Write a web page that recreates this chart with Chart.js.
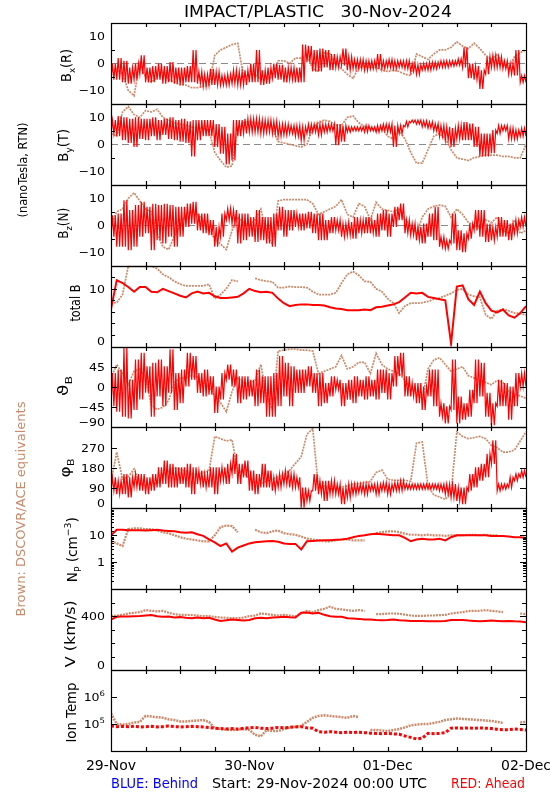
<!DOCTYPE html>
<html>
<head>
<meta charset="utf-8">
<script src="https://cdn.jsdelivr.net/npm/chart.js@4.4.1/dist/chart.umd.min.js"></script>
<style>
  html, body { margin: 0; padding: 0; background: #fff; }
  #wrap { width: 550px; height: 800px; }
</style>
</head>
<body>
<div id="wrap"><canvas id="c" width="550" height="800"></canvas></div>
<script>
const RED = '#ff0000';
const BROWN = '#c98b6b';
const FAMILY = '"DejaVu Sans", sans-serif';

// hourly samples, 29-Nov 00:00 .. 02-Dec 00:00
const hours = Array.from({ length: 73 }, (_, i) => i);
const dayNames = ['29-Nov', '30-Nov', '01-Dec', '02-Dec'];

// red (STEREO-A) field components: hourly [low, high] spread
const bxRed = [[-6,0],[-6,2],[-7,1],[-7.5,-1.5],[-6,0],[-4,3],[-7,-1.5],[-7,-1],[-6,0],[-7.5,-1],
  [-7,0.5],[-7.5,-1.5],[-8,-1.5],[-7,-1],[-7,5],[-7.5,-3],[-8.5,-4],[-8,-2],[-8,-3],[-8,-4.5],
  [-8,-4],[-7.5,-2.5],[-8,-3],[-8,-2.5],[-7,0],[-7,5],[-8,-2.5],[-7.5,-1.5],[-5.5,0],[-6,-0.5],
  [-7,-1.5],[-6,-1.5],[-7,-1.5],[-7,7],[0.5,6.5],[-3,5],[-3,5.5],[-1.5,5],[-2.5,3.5],[-1.5,2.5],
  [-0.7,5.5],[-2.5,2.5],[-2,1.5],[-2,1.5],[-2.5,1],[-2,1],[-2,3.5],[-2,1],[-1.5,1.5],[-2,1],
  [-1.5,1],[-2,1],[-3,0],[-4,-0.5],[-2.5,0],[-2.5,0.5],[-2,0.5],[-1.5,1],[-1.5,1],[-1,1],
  [-0.7,1.7],[-1.5,6],[-5.5,0],[-6,-1],[-9.5,-2.5],[-4,2.5],[-1.5,3],[-1.5,2.5],[-2,1],[-4,0],
  [-4.5,5],[-7,-4.5],[-7,-5]];
const byRed = [[4,9],[3,10.5],[1.5,10],[0.5,9.5],[-1,10],[2,9.5],[1.5,9.5],[3,10],[1.5,9],[3.5,9.5],
  [2,10],[1.5,9],[1,9.5],[0.5,8.5],[-4.5,9],[1.5,9],[3,9],[3,9],[-1,7.5],[-3.5,6.5],
  [-7.5,4],[-6,9],[3,9],[4,9.5],[4.5,9.5],[4.5,9.5],[4,9],[4.5,9],[4,8.5],[3,7.5],
  [3.5,7.5],[4,7],[3,7],[1.5,6.5],[4,7.5],[4.5,7.5],[3.5,7.5],[4.5,7.5],[5,7.5],[-0.3,7.5],
  [1,7],[4.5,6.5],[5,6.5],[5,6.5],[4.5,7],[5,6.5],[4.5,7],[5,7.5],[4.5,7.5],[-1,7],
  [4,7],[6.5,8.5],[8,9],[7.5,9],[6.5,8.7],[6,8.3],[5,7.7],[3,7],[1.5,6.5],[-1,6],
  [2,7],[1.5,8.3],[1.5,7.7],[-1,6.5],[-4.5,4],[-4.5,4],[-3.3,5.3],[4,7],[5,7],[2,6],
  [2,5.3],[3,6],[3,6]];
const bzRed = [[-4.3,3.7],[-8,4.3],[-8,9.3],[-9.3,5.6],[-8,7.5],[-4.3,8.7],[-3,6.8],[-9.3,8],[-5.6,7.5],[-6.8,8],
  [-4.3,7.5],[-8,6.8],[-4.3,6.8],[-0.6,8],[0.6,8.7],[-1.9,4.3],[-3,4.3],[-3.7,1.9],[-8,-0.6],[-4.3,4.3],
  [1.9,6.2],[0.6,5.6],[-6.8,4.3],[-5.6,4.3],[-4.3,3],[-6.2,5.6],[-5.6,3],[-6.8,3],[-8,4.3],[-1.9,6.8],
  [-4.3,5.6],[-1.9,5.6],[-0.6,4.3],[-1.9,4.3],[-1.2,5],[-3,4.3],[-5.6,4.3],[-5.6,1.9],[-3,3],[-1.9,1.9],
  [-4.3,0.6],[-3.7,1.2],[-5,3],[-3,1.9],[-3,3],[-3,1.9],[-4.3,4.3],[-1.9,5.6],[-4.3,4.3],[-0.6,6.8],
  [1.9,8],[-3,1.9],[-3.7,0.6],[-5.6,-0.6],[-6.8,0.6],[-4.3,4.3],[-5.6,6.8],[-8,-4.3],[-8.7,-5.6],[-6.8,4.3],
  [-9.3,-1.9],[-10,-3],[-5,0.6],[-1.9,5.6],[-4.3,5.6],[-6.2,0.6],[-5.6,-0.6],[-4.3,3],[-4.3,1.9],[-5.6,0.6],
  [-3,1.9],[-0.6,3],[-0.6,3]];
const thetaRed = [[-43,31],[-55,39],[-66,88],[-70,16],[-51,61],[-28,76],[-13,46],[-66,54],[-21,61],[-43,46],
  [-13,84],[-51,31],[-36,39],[1,76],[16,69],[-13,31],[-21,39],[-17,24],[-58,1],[-28,31],
  [16,50],[1,39],[-36,24],[-28,24],[-21,16],[-43,39],[-36,24],[-66,24],[-66,31],[-43,69],
  [-21,54],[-43,46],[-13,39],[-13,39],[1,46],[-13,31],[-43,31],[-36,9],[-21,24],[-6,16],
  [-43,9],[-28,16],[-36,24],[-21,16],[-28,24],[-21,16],[-28,39],[-13,39],[-28,31],[1,69],
  [24,76],[-21,24],[-21,9],[-36,9],[-51,1],[-21,39],[-43,39],[-66,-36],[-81,-43],[-51,61],
  [-81,-21],[-73,-36],[-66,-6],[-36,61],[-21,54],[-66,-13],[-85,-36],[-43,16],[-43,9],[-73,1],
  [-43,31],[1,31],[1,31]];
const phiRed = [[78,138],[63,123],[63,153],[48,138],[93,153],[78,153],[63,138],[78,153],[93,183],[108,213],
  [93,198],[93,183],[108,183],[93,198],[63,183],[108,168],[93,153],[93,183],[63,183],[123,183],
  [108,198],[153,243],[108,198],[138,213],[78,168],[63,153],[93,198],[93,168],[78,138],[93,153],
  [108,168],[93,153],[93,138],[3,93],[33,78],[78,153],[63,123],[33,123],[63,123],[63,108],
  [18,93],[48,108],[63,108],[70,108],[63,108],[78,108],[63,108],[78,115],[63,108],[78,115],
  [78,123],[85,108],[85,108],[85,108],[85,108],[85,108],[85,108],[78,108],[63,108],[48,108],
  [33,93],[18,93],[78,153],[93,183],[123,198],[138,243],[198,303],[78,108],[85,108],[93,138],
  [123,153],[138,168],[138,168]];

// brown (DSCOVR/ACE) hourly values, null where absent
const bxBrown = [-3,-2,-4,-10,-12,0,-5,-7,-5,-3,-6,-7,-8,-8,-9,-9,-8.5,-8,3,5,6,7,7.5,-5,-4,-4,-6,-6,-5,
  1,1,0,2,2,3,-2,-3,4,3.5,0,-2,-4,-5.5,-1.5,-1,-1.5,-1.5,-2.5,-3,-2.5,-3,-4,-4.5,3.5,2.5,1.5,3.5,5,5,
  6,8,6.5,5.5,7.5,5.5,3,1.5,3.5,0,-2,2.5,4,5];
const byBrown = [4,3,12,14,11,10,12.5,12,13,10,9,8,7.5,7,6.5,6,6,5,-3,-6,-8.5,-8,6,8,8.5,8,8,7.5,6,
  1,0.5,0,-0.5,-1,0,6,8,9,8.5,7,7,10,10.5,8,6.5,6,5,6,3,2,5,2,-3,-7,-7,-2,3,4,2,
  -2,-5,-5.5,-6,-5,-4.5,-4,-4,-4,-4.5,-4.5,-5,-5,0];
const bzBrown = [0,5,6,10,12,9,6,5,-3,-8,-9,-4,0,4,5,4,2,-2,-5,-7,-9,-2,3,1,0,2,6,-3,-7,
  9,9.5,9.5,9.5,9.5,9.5,8,4,5,6,7,9.5,4,3,8,7,2,8.5,6,5.5,5,6,2,0,-3,3,6,7,7.5,7,
  3,6,4,1,0,-1,2,1,3,-2,-3,2,-3,-2];
const thetaBrown = [20,50,30,5,35,40,20,-40,-50,-45,-30,10,20,20,25,22,10,0,-20,-35,-55,-10,20,10,8,15,50,-20,-50,
  80,82,84,84,82,82,80,30,35,40,45,70,40,45,55,55,30,75,50,40,35,30,15,0,-15,-25,40,60,65,50,
  35,40,45,25,20,15,10,5,15,10,-10,-15,-20,-25];
const phiBrown = [120,250,130,140,175,110,100,115,110,150,165,180,175,165,155,150,160,165,320,310,300,305,165,160,130,115,110,120,130,
  140,150,170,200,230,330,355,90,100,85,90,95,100,110,110,115,120,160,170,130,125,125,125,120,290,295,100,60,50,40,
  70,340,320,310,315,320,310,280,270,250,250,260,300,340];

// total field, density, speed, temperature
const btRed = [6.5,11.5,11,10.3,9.5,10.3,10.3,9.5,9.4,10,9.6,9.2,8.8,8.5,9.2,9.5,9.2,9.3,8.7,8.4,8.4,8.5,8.6,9.2,10,9.6,9.4,9.5,9.3,
  8.3,7.5,7,7.2,7.3,7.3,7.2,7.2,7.1,6.8,6.6,6.5,6.3,6.3,6.3,6.4,6.3,6.8,6.9,7.1,7.3,7.7,8.5,9.3,9.2,9.3,8.6,8.4,8.2,8,
  0.5,10.4,10.6,8.2,7.2,9.5,7.5,6.2,5.9,6.4,5.4,5,5.8,7];
const btBrown = [7.5,7.6,9,13.9,13.9,13.9,13.9,13.9,13.5,12.5,12,11.3,10.8,10.5,10.5,10.5,10.5,10.8,8.3,9,10,11.5,11.3,null,null,11.8,11.5,11.3,11.2,
  10.2,10.2,10.4,10.3,10.3,10.2,9.5,9,9,9,9.3,11,12.5,13,12.3,11.3,11.2,10,9.5,8.3,7.5,5.8,7,7.5,7.5,7.6,7.8,8.2,8.4,8.8,
  9.2,9.8,10,9,8.7,8.5,5.5,4.8,6.2,6.5,6.2,5.8,5.7,5.5];
const npRed = [10,16,16,15.5,15.5,15.5,15,15.5,16,15,14.5,14,13,12.5,13,11,9.5,7,5.5,4,5,2.5,3.5,4.2,5,5.5,5.8,6,6.2,
  5.8,5,4.8,4.8,3,6,6.2,6.4,6.5,6.6,6.8,7,7.5,8.5,9.5,10,11,11.5,11,10.5,10,10,8,6,7,7.5,7,7,7.5,6.5,
  8.5,10,10,10,10,10,10,9.5,9.5,9.5,9,8.5,8.5,8];
const npBrown = [6,5,4,17,18,18,17,17,15,13,12,10,8.5,7.5,7,6.5,6,6,10,20,23,22,13,null,null,16,13,12,14,
  15,12,11,10.5,9,7.5,7,6.5,6,6,6.5,7,7,6.5,6.5,6.5,null,12,13,14,14,13,11.5,10.5,10.5,10,10.5,10,10,9.5,
  10,10,10,10.5,10.5,10,10.5,10,10,null,null,null,null,null];
const vRed = [375,395,398,398,400,402,405,408,400,395,398,390,393,388,385,390,385,388,375,365,370,375,372,368,372,385,388,385,390,
  393,395,392,390,425,428,420,425,410,400,395,395,385,383,380,375,375,372,370,372,375,370,368,365,365,365,363,363,362,365,
  372,372,372,368,365,362,365,368,365,362,365,362,360,355];
const vBrown = [400,405,410,420,425,430,445,440,435,440,425,415,410,410,408,405,400,400,395,390,388,385,385,390,400,405,420,415,410,
  405,410,405,400,420,440,430,445,455,470,455,450,445,440,445,440,null,415,415,420,420,418,412,405,402,402,405,405,408,410,
  420,425,430,438,440,440,445,440,435,430,null,null,420,415];
const tRed = [85000,80000,82000,80000,83000,78000,80000,82000,78000,80000,85000,80000,78000,80000,82000,80000,78000,75000,70000,68000,
  66000,68000,65000,70000,72000,75000,70000,68000,70000,
  75000,72000,75000,78000,80000,72000,70000,52000,50000,52000,50000,48000,50000,48000,50000,48000,46000,45000,44000,45000,
  43000,42000,36000,32000,28000,30000,45000,44000,45000,48000,70000,72000,70000,72000,70000,72000,70000,68000,64000,62000,
  62000,65000,63000,60000];
const tBrown = [250000,100000,95000,100000,115000,120000,200000,190000,180000,170000,150000,140000,125000,125000,130000,135000,140000,120000,70000,65000,
  62000,60000,62000,65000,60000,40000,35000,60000,55000,
  55000,65000,75000,80000,85000,120000,170000,200000,210000,200000,190000,180000,170000,200000,180000,null,60000,60000,58000,55000,
  60000,65000,75000,90000,95000,100000,100000,110000,120000,140000,150000,160000,155000,150000,145000,140000,135000,130000,120000,110000,
  null,null,115000,120000];

// panel layout (top to bottom)
const panels = [
  { id: 'bx', min: -15, max: 15, step: 10, zero: true, lab: [-10, 0, 10], title: [['B'], ['x', 'sub'], ['(R)']], tx: 71, dy: 2, len: 33 },
  { id: 'by', min: -15, max: 15, step: 10, zero: true, lab: [-10, 0, 10], title: [['B'], ['y', 'sub'], ['(T)']], tx: 68, dy: 1, len: 33 },
  { id: 'bz', min: -15, max: 15, step: 10, zero: true, lab: [-10, 0, 10], title: [['B'], ['z', 'sub'], ['(N)']], tx: 68, dy: -2, len: 31 },
  { id: 'bt', min: 0, max: 14, step: 2, lab: [0, 10], title: [['total B']], tx: 80, dy: -3, len: 37 },
  { id: 'th', min: -90, max: 90, step: 45, lab: [-90, -45, 0, 45], allMajor: true, title: [['\u03D1'], ['B', 'sub']], tx: 68, dy: -1, len: 20 },
  { id: 'ph', min: 0, max: 360, step: 90, lab: [0, 90, 180, 270], allMajor: true, title: [['\u03C6'], ['B', 'sub']], tx: 70, dy: 0, len: 19 },
  { id: 'np', log: true, min: 0.1, max: 100, lab: [1, 10], title: [['N'], ['P', 'sub'], [' (cm'], ['\u22123', 'sup'], [')']], tx: 77, dy: 1, len: 65 },
  { id: 'v', min: 0, max: 600, step: 100, lab: [0, 400], title: [['V (km/s)']], tx: 75, dy: 4, len: 67 },
  { id: 't', log: true, decadesOnly: true, min: 1e4, max: 1e7, lab: [1e5, 1e6], title: [['Ion Temp']], tx: 76, dy: 2, len: 60 }
];

const pts = vals => hours.map((h, i) => ({ x: h, y: vals[i] }));
// each hourly [low, high] spread is drawn as a fast swing inside that hour
const swing = pairs => pairs.flatMap((p, i) => [0, 0.25, 0.5, 0.75].map((f, k) => ({ x: hours[i] + f, y: p[k % 2] })));

function noisy(id, pairs) {
  return { type: 'line', yAxisID: id, data: swing(pairs), borderColor: RED, borderWidth: 1.2,
    pointRadius: 0, tension: 0, order: 1 };
}
function trace(id, vals, color, width, dash) {
  return { type: 'line', yAxisID: id, data: pts(vals), borderColor: color, borderWidth: width,
    borderDash: dash || [], pointRadius: 0, tension: 0, spanGaps: false, order: color === RED ? 1 : 2 };
}

const datasets = [
  noisy('bx', bxRed), trace('bx', bxBrown, BROWN, 1.7, [2, 1]),
  noisy('by', byRed), trace('by', byBrown, BROWN, 1.7, [2, 1]),
  noisy('bz', bzRed), trace('bz', bzBrown, BROWN, 1.7, [2, 1]),
  trace('bt', btRed, RED, 2), trace('bt', btBrown, BROWN, 1.8, [2, 1]),
  noisy('th', thetaRed), trace('th', thetaBrown, BROWN, 1.7, [2, 1]),
  noisy('ph', phiRed), trace('ph', phiBrown, BROWN, 1.7, [2, 1]),
  trace('np', npRed, RED, 2), trace('np', npBrown, BROWN, 2.2, [2, 1]),
  trace('v', vRed, RED, 2), trace('v', vBrown, BROWN, 2.2, [2, 1]),
  trace('t', tRed, RED, 3, [3, 2]), trace('t', tBrown, BROWN, 2.5, [2, 1])
];

const scales = {
  x: {
    type: 'linear', min: 0, max: 72, offset: false, position: 'bottom',
    ticks: { stepSize: 6, display: false },
    grid: { display: false, drawTicks: false }, border: { display: false },
    afterFit: s => { s.height = 30; }
  }
};
panels.forEach((p, i) => {
  scales[p.id] = {
    type: p.log ? 'logarithmic' : 'linear', position: 'left', stack: 'panels', stackWeight: 1,
    weight: panels.length - i, min: p.min, max: p.max,
    ticks: { display: false, stepSize: p.step, includeBounds: false },
    grid: { display: false }, border: { display: false },
    afterFit: s => { s.width = 111; }
  };
});

function font(size) { return size.toFixed(2) + 'px ' + FAMILY; }
function richWidth(ctx, parts, size) {
  let w = 0;
  for (const [t, m] of parts) { ctx.font = font(m ? size * 0.68 : size); w += ctx.measureText(t).width; }
  return w;
}
// draws text parts (with sub/superscripts); optional rotation and target length
function label(ctx, parts, o) {
  ctx.save();
  ctx.fillStyle = o.color || '#000';
  ctx.textBaseline = 'alphabetic';
  ctx.textAlign = 'left';
  const w = richWidth(ctx, parts, o.size);
  const sx = o.len ? o.len / w : (o.sx || 1);
  ctx.translate(o.x, o.y);
  if (o.rot) ctx.rotate(-Math.PI / 2);
  ctx.scale(sx, 1);
  let cx = o.align === 'center' ? -w / 2 : o.align === 'right' ? -w : 0;
  for (const [t, m] of parts) {
    const fs = m ? o.size * 0.68 : o.size;
    ctx.font = font(fs);
    const dy = m === 'sub' ? o.size * 0.32 : m === 'sup' ? -o.size * 0.45 : 0;
    ctx.fillText(t, cx, dy);
    cx += ctx.measureText(t).width;
  }
  ctx.restore();
}
function isDecade(v) { const l = Math.log10(v); return Math.abs(l - Math.round(l)) < 1e-6; }
function tickText(p, v) {
  if (p.id === 't') return [['10'], [String(Math.round(Math.log10(v))), 'sup']];
  return [[String(v).replace('-', '\u2212')]];
}

const frames = {
  id: 'frames',
  beforeDatasetsDraw(chart) {
    const ctx = chart.ctx, a = chart.chartArea;
    ctx.save();
    ctx.strokeStyle = '#8a8a8a';
    ctx.lineWidth = 1;
    ctx.setLineDash([7, 4]);
    panels.filter(p => p.zero).forEach(p => {
      const y = Math.round(chart.scales[p.id].getPixelForValue(0)) + 0.5;
      ctx.beginPath(); ctx.moveTo(a.left, y); ctx.lineTo(a.right, y); ctx.stroke();
    });
    ctx.restore();
  },
  afterDatasetsDraw(chart) {
    const ctx = chart.ctx, a = chart.chartArea, xs = chart.scales.x;
    ctx.save();
    ctx.strokeStyle = '#000';
    ctx.lineWidth = 1.2;
    panels.forEach(p => {
      const s = chart.scales[p.id];
      const top = Math.round(s.top), bot = Math.round(s.bottom);
      ctx.strokeRect(a.left + 0.5, top + 0.5, a.right - a.left, bot - top);
      ctx.beginPath();
      xs.ticks.forEach(t => {
        if (t.value <= 0 || t.value >= 72) return;
        const x = Math.round(xs.getPixelForValue(t.value)) + 0.5;
        ctx.moveTo(x, top); ctx.lineTo(x, top + 4);
        ctx.moveTo(x, bot); ctx.lineTo(x, bot - 4);
      });
      s.ticks.forEach(t => {
        const v = t.value;
        if (p.decadesOnly && !isDecade(v)) return;
        const y = Math.round(s.getPixelForValue(v)) + 0.5;
        if (y <= top + 1 || y >= bot - 1) return;
        const major = p.allMajor || p.lab.includes(v) || (p.log && isDecade(v));
        const len = major ? 6 : (p.log ? 3 : 4);
        ctx.moveTo(a.left, y); ctx.lineTo(a.left + len, y);
        ctx.moveTo(a.right, y); ctx.lineTo(a.right - len, y);
      });
      ctx.stroke();
    });
    ctx.restore();
  },
  afterDraw(chart) {
    const ctx = chart.ctx, xs = chart.scales.x;
    panels.forEach(p => {
      const s = chart.scales[p.id];
      p.lab.forEach(v => {
        let y = s.getPixelForValue(v);
        y = Math.min(y, s.bottom - 5.5);
        label(ctx, tickText(p, v), { x: 105, y: y + 4, size: 11, sx: 1.14, align: 'right' });
      });
      label(ctx, p.title, { x: p.tx, y: (s.top + s.bottom) / 2 + p.dy, size: 14, len: p.len, rot: true, align: 'center' });
    });
    xs.ticks.forEach(t => {
      if (t.value % 24 !== 0) return;
      label(ctx, [[dayNames[t.value / 24]]], { x: xs.getPixelForValue(t.value), y: 770, size: 14, align: 'center' });
    });
    label(ctx, [['IMPACT/PLASTIC   30-Nov-2024']], { x: 318, y: 17, size: 15, len: 268, align: 'center' });
    label(ctx, [['(nanoTesla, RTN)']], { x: 27, y: 170, size: 13, len: 95, rot: true, align: 'center' });
    label(ctx, [['Brown: DSCOVR/ACE equivalents']], { x: 25, y: 509, size: 13, len: 215, rot: true, align: 'center', color: BROWN });
    label(ctx, [['BLUE: Behind']], { x: 111, y: 788, size: 14, len: 87, color: '#0000ff' });
    label(ctx, [['Start: 29-Nov-2024 00:00 UTC']], { x: 212, y: 788, size: 14, len: 215 });
    label(ctx, [['RED: Ahead']], { x: 451, y: 788, size: 14, len: 74, color: RED });
  }
};

new Chart(document.getElementById('c'), {
  type: 'line',
  data: { datasets },
  options: {
    responsive: false,
    animation: false,
    events: [],
    layout: { padding: { left: 0, right: 24, top: 23, bottom: 19 } },
    plugins: { legend: { display: false }, tooltip: { enabled: false }, title: { display: false } },
    scales
  },
  plugins: [frames]
});
</script>
</body>
</html>
